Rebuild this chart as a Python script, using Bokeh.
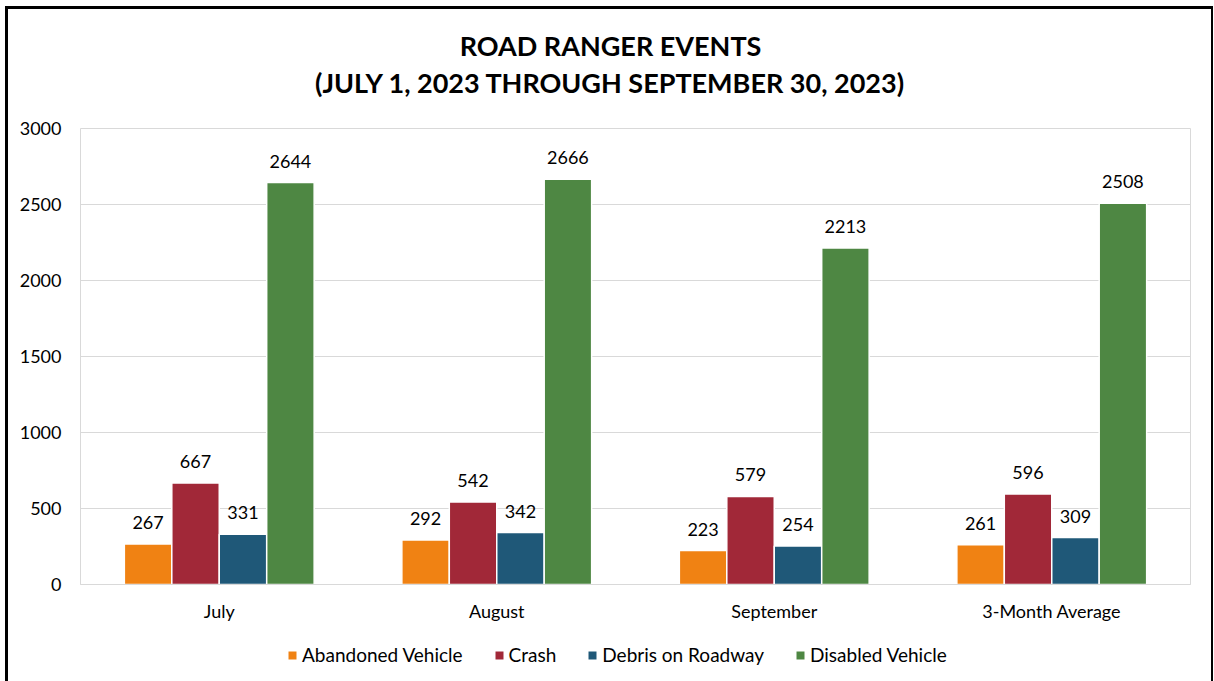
from bokeh.plotting import figure
from bokeh.layouts import column
from bokeh.core.properties import value
from bokeh.models import (ColumnDataSource, FactorRange, Legend, LegendItem, LabelSet,
                          FixedTicker, Range1d)
from bokeh.transform import dodge
from bokeh.embed import file_html
from bokeh.resources import INLINE

title_lines = ["ROAD RANGER EVENTS", "(JULY 1, 2023 THROUGH SEPTEMBER 30, 2023)"]
categories = ["July", "August", "September", "3-Month Average"]
series_names = ["Abandoned Vehicle", "Crash", "Debris on Roadway", "Disabled Vehicle"]
abandoned = [267, 292, 223, 261]
crash = [667, 542, 579, 596]
debris = [331, 342, 254, 309]
disabled = [2644, 2666, 2213, 2508]
y_ticks = [0, 500, 1000, 1500, 2000, 2500, 3000]
colors = ["#F08213", "#A12838", "#1F5878", "#4E8743"]

FONT = "Lato"
W = 1203

source = ColumnDataSource(dict(cat=categories, a=abandoned, c=crash, d=debris, v=disabled,
                               a_s=[str(x) for x in abandoned], c_s=[str(x) for x in crash],
                               d_s=[str(x) for x in debris], v_s=[str(x) for x in disabled]))
keys = ["a", "c", "d", "v"]

# ---- title strip (its frame is aligned with the chart frame by the column) ----
TH = 107
top = figure(width=W, height=TH, x_range=Range1d(0, 1), y_range=Range1d(TH, 0),
             output_backend="svg", toolbar_location=None, min_border=0,
             x_axis_location=None, y_axis_location=None)
top.outline_line_color = None
top.grid.visible = False
top.text(x=[0.4775, 0.4775], y=[36, 73], text=title_lines,
         text_align="center", text_baseline="middle", text_font=value(FONT),
         text_font_size="27px", text_font_style="bold", text_color="black")

# ---- main chart ----
p = figure(x_range=FactorRange(*categories), y_range=(0, 3000),
           width=W, height=523, output_backend="svg", toolbar_location=None,
           min_border_left=72, min_border_right=21, min_border_top=12, min_border_bottom=55)

w = 0.171
offsets = [-1.5 * w, -0.5 * w, 0.5 * w, 1.5 * w]
for k, off, col in zip(keys, offsets, colors):
    p.vbar(x=dodge("cat", off, range=p.x_range), top=k, width=w, source=source,
           fill_color=col, line_color="white", line_width=1.5)
    lbl = LabelSet(x=dodge("cat", off, range=p.x_range), y=k, text=k + "_s", source=source,
                   text_align="center", text_baseline="alphabetic", y_offset=15,
                   text_font_size=value("18px"), text_font=value(FONT), text_color="black")
    p.add_layout(lbl)

p.outline_line_color = "#D9D9D9"
p.xgrid.grid_line_color = None
p.ygrid.grid_line_color = "#D9D9D9"
p.ygrid.grid_line_width = 1
p.yaxis.ticker = FixedTicker(ticks=y_ticks)
p.yaxis.axis_line_color = None
p.yaxis.major_tick_line_color = None
p.yaxis.minor_tick_line_color = None
p.yaxis.major_label_standoff = 13
p.yaxis.major_label_text_font = FONT
p.yaxis.major_label_text_font_size = "18px"
p.yaxis.major_label_text_color = "black"
p.xaxis.axis_line_color = "#D9D9D9"
p.xaxis.major_tick_line_color = None
p.xaxis.minor_tick_line_color = None
p.xaxis.major_label_standoff = 9
p.xaxis.major_label_text_font = FONT
p.xaxis.major_label_text_font_size = "18px"
p.xaxis.major_label_text_color = "black"

# ---- legend strip ----
LH = 42
leg = figure(width=W, height=LH, x_range=FactorRange(*categories), y_range=Range1d(-1, 0),
             output_backend="svg", toolbar_location=None, min_border=0,
             x_axis_location=None, y_axis_location=None)
leg.outline_line_color = None
leg.grid.visible = False
items = []
for name, k, col in zip(series_names, keys, colors):
    r = leg.vbar(x="cat", top=k, bottom=0, width=0.1, source=source,
                 fill_color=col, line_color=None, visible=False)
    items.append(LegendItem(label=name, renderers=[r]))
legend = Legend(items=items, orientation="horizontal", location=(207, 15),
                glyph_width=10, glyph_height=10, label_standoff=5, spacing=31,
                label_text_font=FONT, label_text_font_size="19px", label_text_color="black",
                inactive_fill_alpha=0,
                border_line_color=None, background_fill_alpha=0, margin=0, padding=0)
leg.add_layout(legend)

layout = column(top, p, leg, spacing=0,
                styles={"border-left": "3px solid black", "border-top": "3px solid black",
                        "border-right": "2px solid black",
                        "margin-left": "5px", "margin-top": "6px"})

open("out.html", "w").write(file_html(layout, INLINE))
